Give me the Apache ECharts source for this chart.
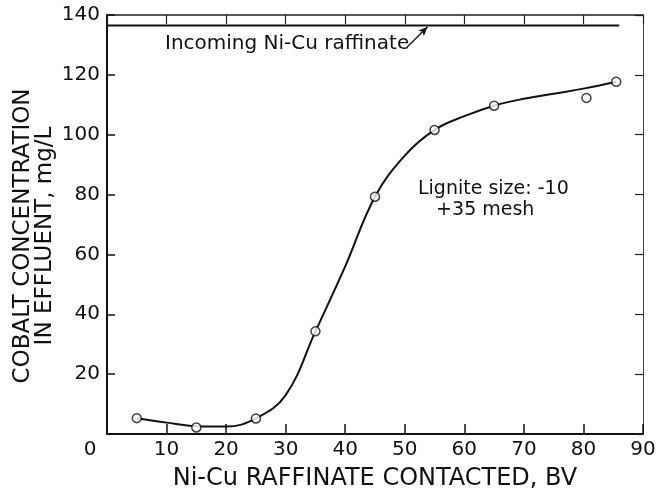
<!DOCTYPE html>
<html>
<head>
<meta charset="utf-8">
<script src="https://cdn.jsdelivr.net/npm/echarts@6/dist/echarts.min.js"></script>
<style>
  html, body { margin: 0; padding: 0; background: #fff; }
  #chart { width: 658px; height: 493px; }
</style>
</head>
<body>
<div id="chart"></div>
<script>
// measured points (bed volumes vs cobalt in effluent)
var pointBV = [5, 15, 25, 35, 45, 55, 65, 80.5, 85.5];
var pointCo = [5.3, 2.2, 5.2, 34.3, 79.3, 101.6, 109.7, 112.3, 117.7];

// hand drawn trend curve
var curveBV = [5, 10, 15, 20, 25, 30, 35, 40, 45, 50, 55, 60, 65, 70, 75, 80, 85.5];
var curveCo = [5.3, 3.8, 2.6, 2.5, 5.2, 13, 34.3, 56, 79.3, 93, 101.6, 106.2, 109.7, 112.0, 113.7, 115.4, 117.7];

// incoming raffinate level
var incomingCo = 136.5;
var incomingBV = [0, 86];

var xTicks = [0, 10, 20, 30, 40, 50, 60, 70, 80, 90];
var yTicks = [0, 20, 40, 60, 80, 100, 120, 140];

var FONT = 'DejaVu Sans';

var chart = echarts.init(document.getElementById('chart'));

function zip(a, b) {
  var out = [];
  for (var i = 0; i < a.length; i++) out.push([a[i], b[i]]);
  return out;
}

var option = {
  backgroundColor: '#fff',
  animation: false,
  grid: { left: 107, right: 15, top: 15, bottom: 59, outerBoundsMode: 'none' },
  xAxis: [{
    type: 'value',
    min: xTicks[0], max: xTicks[xTicks.length - 1], interval: 10,
    name: 'Ni-Cu RAFFINATE CONTACTED, BV',
    nameLocation: 'middle',
    nameGap: 33,
    nameTextStyle: { fontFamily: FONT, fontSize: 24, color: '#111' },
    axisLine: { onZero: false, lineStyle: { color: '#111', width: 2 } },
    axisTick: { show: true, inside: true, length: 10, lineStyle: { color: '#111', width: 1.5 } },
    axisLabel: {
      fontFamily: FONT, fontSize: 20, color: '#111', margin: 6,
      formatter: function (v) { return v === 0 ? '{z|0}' : String(v); },
      rich: { z: { fontFamily: FONT, fontSize: 20, color: '#111', padding: [0, 34, 0, 0] } }
    },
    splitLine: { show: false }
  }, {
    type: 'value',
    position: 'top',
    min: xTicks[0], max: xTicks[xTicks.length - 1], interval: 10,
    axisLine: { show: true, onZero: false, lineStyle: { color: '#222', width: 1.5 } },
    axisTick: { show: true, inside: true, length: 9, lineStyle: { color: '#222', width: 1.2 } },
    axisLabel: { show: false },
    splitLine: { show: false }
  }],
  yAxis: [{
    type: 'value',
    min: yTicks[0], max: yTicks[yTicks.length - 1], interval: 20,
    axisLine: { show: true, onZero: false, lineStyle: { color: '#111', width: 2 } },
    axisTick: { show: true, inside: true, length: 8, lineStyle: { color: '#111', width: 1.5 } },
    axisLabel: {
      fontFamily: FONT, fontSize: 20, color: '#111', margin: 7,
      formatter: function (v) { return v === 0 ? '' : String(v); }
    },
    splitLine: { show: false }
  }, {
    type: 'value',
    position: 'right',
    min: yTicks[0], max: yTicks[yTicks.length - 1], interval: 20,
    axisLine: { show: true, onZero: false, lineStyle: { color: '#444', width: 1 } },
    axisTick: { show: true, inside: true, length: 8, lineStyle: { color: '#222', width: 1.2 } },
    axisLabel: { show: false },
    splitLine: { show: false }
  }],
  series: [{
    name: 'incoming',
    type: 'line',
    data: incomingBV.map(function (x) { return [x, incomingCo]; }),
    showSymbol: false,
    lineStyle: { color: '#111', width: 2 },
    markLine: {
      silent: true,
      symbol: ['none', 'arrow'],
      symbolSize: [6, 9],
      lineStyle: { color: '#111', width: 1.3, type: 'solid' },
      label: { show: false },
      data: [[{ coord: [50.4, 129.3] }, { coord: [53.8, 136] }]]
    }
  }, {
    name: 'curve',
    type: 'line',
    data: zip(curveBV, curveCo),
    smooth: 0.4,
    showSymbol: false,
    lineStyle: { color: '#111', width: 2 }
  }, {
    name: 'points',
    type: 'scatter',
    data: zip(pointBV, pointCo),
    symbol: 'circle',
    symbolSize: 9,
    itemStyle: { color: '#fff', borderColor: '#111', borderWidth: 1.5 },
    z: 5
  }],
  graphic: [{
    type: 'text',
    x: 34, y: 236,
    rotation: Math.PI / 2,
    style: {
      text: 'COBALT CONCENTRATION\nIN EFFLUENT, mg/L',
      fontFamily: FONT, fontSize: 23, lineHeight: 22,
      fill: '#111', align: 'center', verticalAlign: 'middle'
    }
  }, {
    type: 'text',
    x: 165, y: 44,
    style: {
      text: 'Incoming Ni-Cu raffinate',
      fontFamily: FONT, fontSize: 20, fill: '#111', verticalAlign: 'middle'
    }
  }, {
    type: 'text',
    x: 418, y: 179,
    style: {
      text: 'Lignite size: -10\n   +35 mesh',
      fontFamily: FONT, fontSize: 19, lineHeight: 21, fill: '#111'
    }
  }]
};

chart.setOption(option);
</script>
</body>
</html>
